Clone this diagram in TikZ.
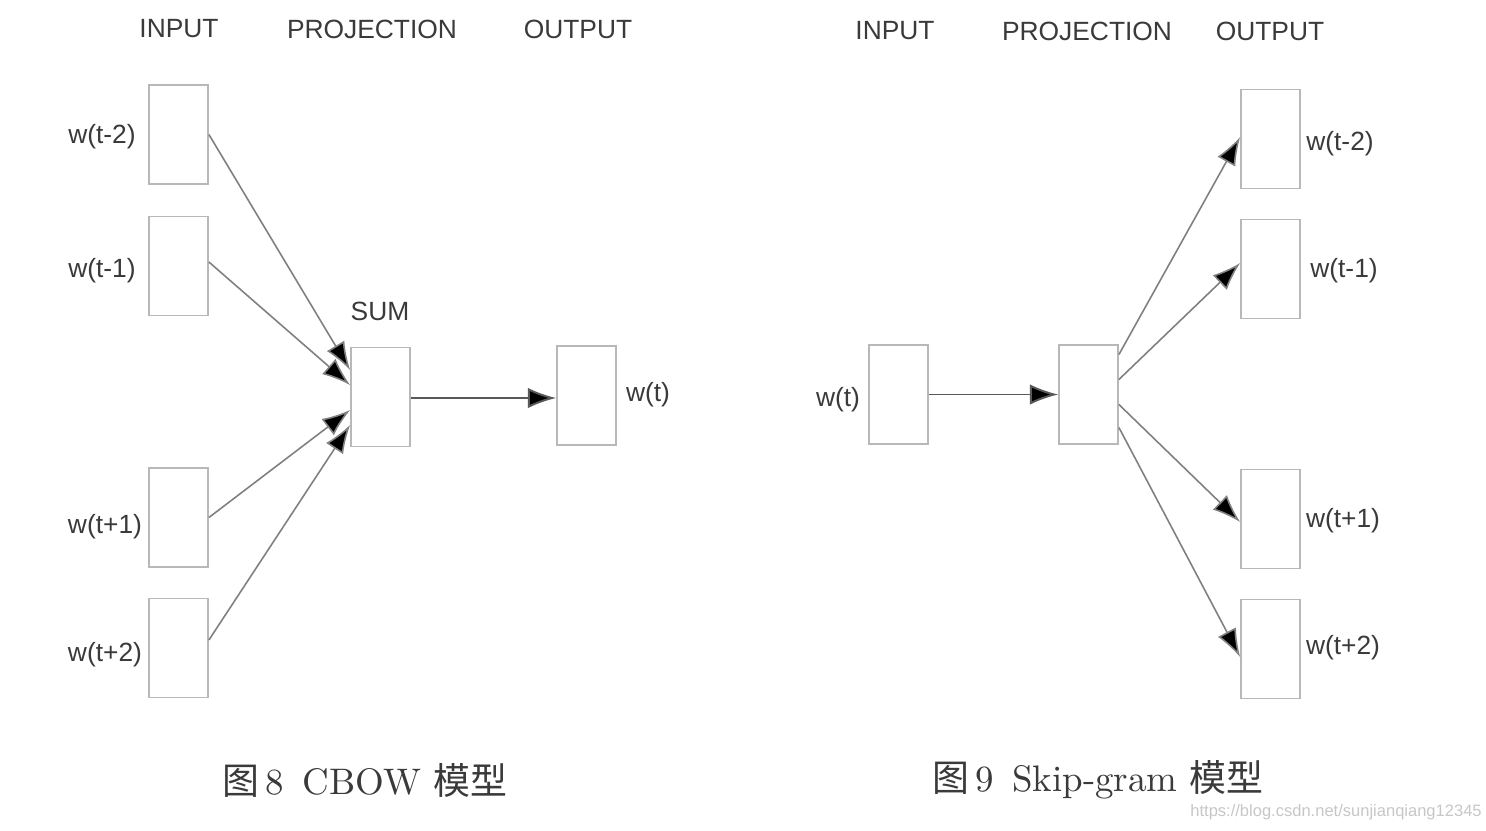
\documentclass[tikz,border=0pt]{standalone}
\usepackage{fontspec}
\newfontfamily\arialf{Liberation Sans}
\newfontfamily\cjk{Noto Sans CJK SC}
\usetikzlibrary{arrows.meta,calc}
\definecolor{boxc}{HTML}{B8B8B8}
\definecolor{linec}{HTML}{808080}
\definecolor{txtc}{HTML}{3A3A3A}
\begin{document}
\begin{tikzpicture}[x=0.01cm,y=-0.01cm,
  wbox/.style={draw=boxc,line width=0.5pt,minimum width=0.59cm,minimum height=0.99cm,inner sep=0pt,fill=white},
  lbl/.style={font=\arialf\fontsize{7.5}{9}\selectfont,text=txtc,inner sep=0pt},
  conn/.style={draw=linec,line width=0.45pt,-{Latex[length=8pt,width=5.8pt,fill=black]}},
  hconn/.style={conn,draw=black!65,line width=0.55pt},
  captext/.style={font=\fontsize{10.5}{12}\selectfont,text=txtc,inner sep=0pt}]
\useasboundingbox[fill=white] (0,0) rectangle (1486,830);
% ---------- CBOW ----------
\node[lbl] (hin1) at (179,29) {INPUT};
\node[lbl] (hpr1) at (372,29) {PROJECTION};
\node[lbl] (hout1) at (578,29) {OUTPUT};
\node[wbox] (ci2) at (178.5,134.5) {};
\node[wbox] (ci1) at (178.5,266) {};
\node[wbox] (cp1) at (178.5,517.5) {};
\node[wbox] (cp2) at (178.5,648) {};
\node[wbox] (csum) at (380.5,397) {};
\node[wbox] (cout) at (586.5,395.5) {};
\node[lbl] (lci2) at (102,137) {w(t-2)};
\node[lbl] (lci1) at (102,271) {w(t-1)};
\node[lbl] (lcp1) at (105,527) {w(t+1)};
\node[lbl] (lcp2) at (105,655) {w(t+2)};
\node[lbl] (lsum) at (380,311) {SUM};
\node[lbl] (lcout) at (648,395) {w(t)};
\draw[conn] (ci2.east) -- ($(csum.west)+(0,-27)$);
\draw[conn] ($(ci1.east)+(0,-4)$) -- ($(csum.west)+(0,-12)$);
\draw[conn] (cp1.east) -- ($(csum.west)+(0,13)$);
\draw[conn] ($(cp2.east)+(0,-8)$) -- ($(csum.west)+(0,28)$);
\draw[hconn] ($(csum.east)+(0,1)$) -- ($(cout.west)+(0,2.5)$);
% ---------- Skip-gram ----------
\node[lbl] (hin2) at (895,31) {INPUT};
\node[lbl] (hpr2) at (1087,31) {PROJECTION};
\node[lbl] (hout2) at (1270,31) {OUTPUT};
\node[wbox] (sin) at (898.5,394.5) {};
\node[wbox] (sproj) at (1088.5,394.5) {};
\node[wbox] (so2) at (1270.5,139) {};
\node[wbox] (so1) at (1270.5,269) {};
\node[wbox] (sp1) at (1270.5,519) {};
\node[wbox] (sp2) at (1270.5,649) {};
\node[lbl] (lsin) at (838,400) {w(t)};
\node[lbl] (lso2) at (1340,144) {w(t-2)};
\node[lbl] (lso1) at (1344,271) {w(t-1)};
\node[lbl] (lsp1) at (1343,521) {w(t+1)};
\node[lbl] (lsp2) at (1343,648) {w(t+2)};
\draw[hconn] (sin.east) -- (sproj.west);
\draw[conn] ($(sproj.east)+(0,-40)$) -- ($(so2.west)+(0,-2)$);
\draw[conn] ($(sproj.east)+(0,-15)$) -- ($(so1.west)+(0,-6)$);
\draw[conn] ($(sproj.east)+(0,10)$) -- ($(sp1.west)+(0,3)$);
\draw[conn] ($(sproj.east)+(0,33)$) -- ($(sp2.west)+(0,8)$);
% ---------- captions ----------
\node[captext] (cap1) at (365,780) {{\cjk 图}\,8\enspace CBOW {\cjk 模型}};
\node[captext] (cap2) at (1098,780) {{\cjk 图}\,9\enspace Skip-gram {\cjk 模型}};
\node[font=\arialf\fontsize{4.7}{5}\selectfont,text=black!22,inner sep=0pt] (wm) at (1336,812) {https://blog.csdn.net/sunjianqiang12345};
\end{tikzpicture}
\end{document}
